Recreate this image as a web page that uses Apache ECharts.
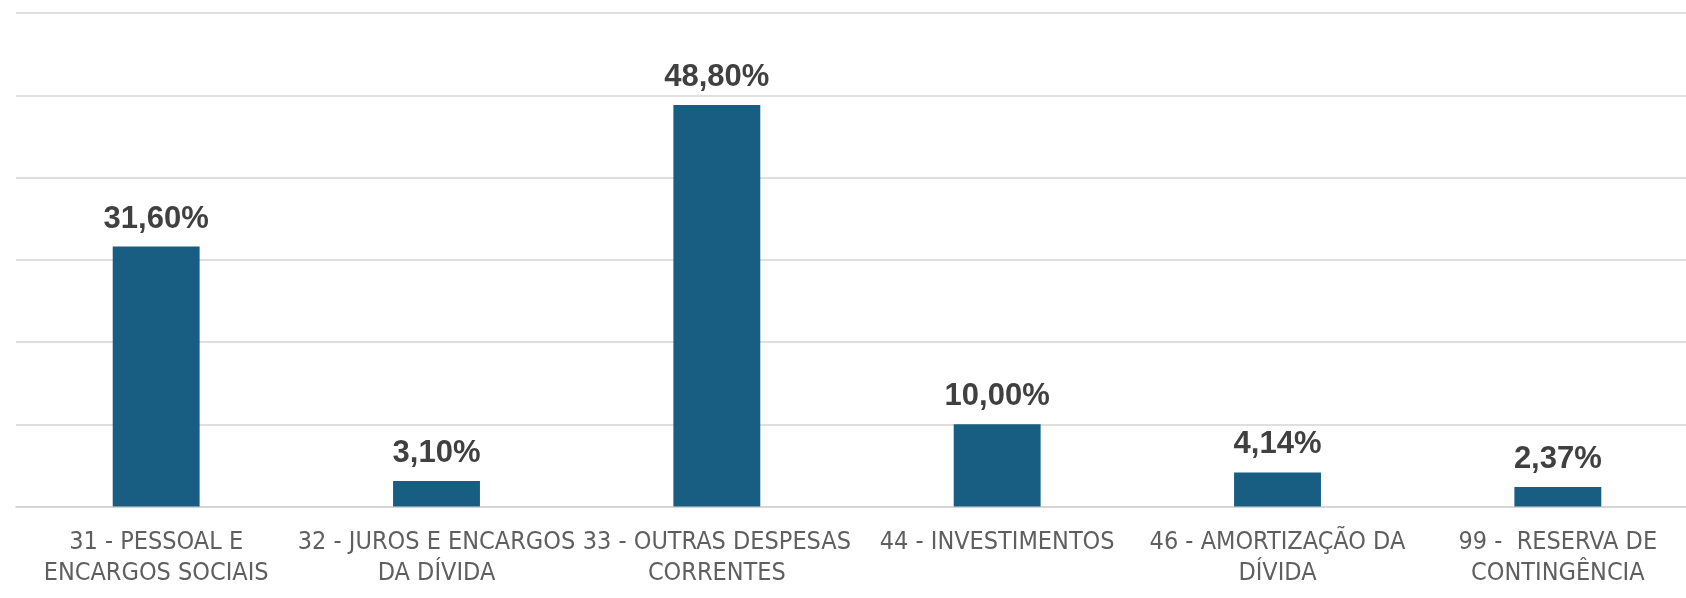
<!DOCTYPE html>
<html>
<head>
<meta charset="utf-8">
<script src="https://cdn.jsdelivr.net/npm/echarts@6/dist/echarts.min.js"></script>
<style>
    html, body { margin: 0; padding: 0; background: #fff; }
    #chart { width: 1686px; height: 598px; }
</style>
</head>
<body>
<div id="chart"></div>
<script>
const categories = [
    '31 - PESSOAL E\nENCARGOS SOCIAIS',
    '32 - JUROS E ENCARGOS\nDA DÍVIDA',
    '33 - OUTRAS DESPESAS\nCORRENTES',
    '44 - INVESTIMENTOS',
    '46 - AMORTIZAÇÃO DA\nDÍVIDA',
    '99 -  RESERVA DE\nCONTINGÊNCIA'
]
const values = [31.60, 3.10, 48.80, 10.00, 4.14, 2.37]

const chart = echarts.init(document.getElementById('chart'))

chart.setOption({
    animation: false,
    grid: {
        left: 16,
        top: 13,
        width: 1682,
        bottom: 91.5,
        outerBoundsMode: 'none'
    },
    xAxis: {
        type: 'category',
        data: categories,
        axisLine: { lineStyle: { color: '#d4d4d4', width: 1.5 } },
        axisTick: { show: false },
        axisLabel: {
            color: '#5f5f5f',
            fontFamily: '"DejaVu Sans Condensed", "DejaVu Sans", sans-serif',
            fontStretch: 'condensed',
            fontSize: 25,
            lineHeight: 31,
            margin: 20,
            interval: 0
        }
    },
    yAxis: {
        type: 'value',
        min: 0,
        max: 60,
        interval: 10,
        axisLabel: { show: false },
        axisLine: { show: false },
        axisTick: { show: false },
        splitLine: { lineStyle: { color: '#d4d4d4', width: 1.5 } }
    },
    series: [
        {
            type: 'bar',
            data: values,
            barWidth: '31%',
            itemStyle: { color: '#175e82' },
            label: {
                show: true,
                position: 'top',
                distance: 12,
                color: '#404040',
                fontFamily: '"Liberation Sans", Arial, sans-serif',
                fontWeight: 'bold',
                fontSize: 31,
                formatter: p => p.value.toFixed(2).replace('.', ',') + '%'
            }
        }
    ]
})
</script>
</body>
</html>
